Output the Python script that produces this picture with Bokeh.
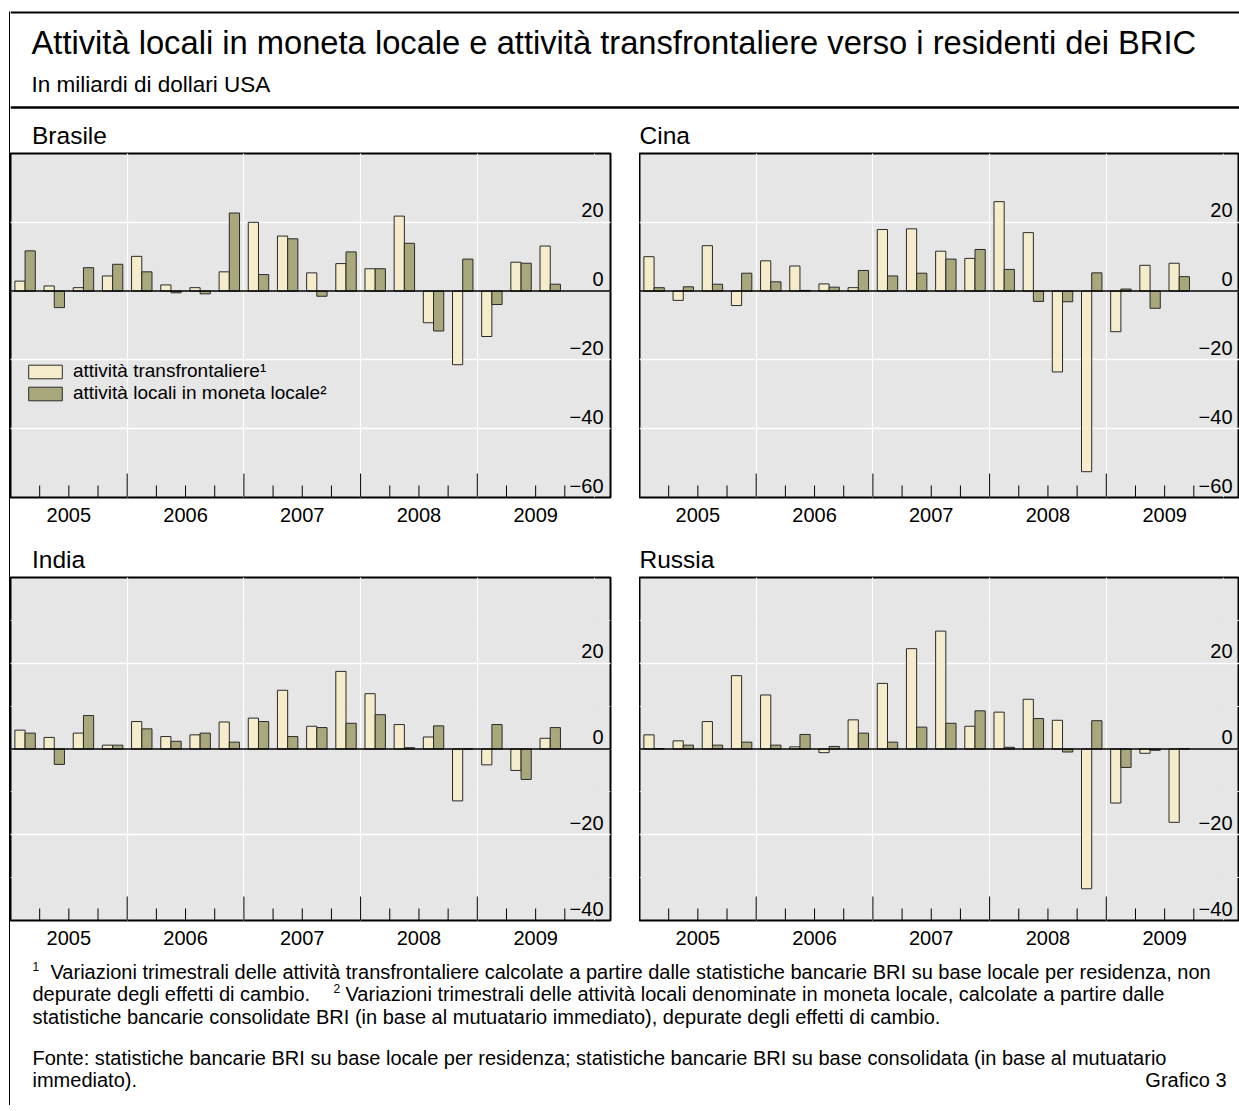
from bokeh.plotting import figure
from bokeh.layouts import row, column
from bokeh.models import (Range1d, FixedTicker, LinearAxis, Grid, Span, Legend,
                          LegendItem, ColumnDataSource)
from bokeh.core.properties import value
from bokeh.transform import dodge
from bokeh.embed import file_html
from bokeh.resources import INLINE

# ---------------- data ----------------
quarters = ["2005Q1", "2005Q2", "2005Q3", "2005Q4",
            "2006Q1", "2006Q2", "2006Q3", "2006Q4",
            "2007Q1", "2007Q2", "2007Q3", "2007Q4",
            "2008Q1", "2008Q2", "2008Q3", "2008Q4",
            "2009Q1", "2009Q2", "2009Q3"]
years = ["2005", "2006", "2007", "2008", "2009"]

brasile_cross = [2.9, 1.5, 1.0, 4.4, 10.1, 1.8, 1.0, 5.6, 20.0, 16.0, 5.3, 8.0,
                 6.5, 21.8, -9.2, -21.4, -13.2, 8.4, 13.1]
brasile_local = [11.7, -4.8, 6.8, 7.8, 5.6, -0.5, -0.8, 22.7, 4.8, 15.2, -1.5, 11.4,
                 6.5, 13.9, -11.6, 9.3, -3.9, 8.1, 2.0]

cina_cross = [10.0, -2.7, 13.2, -4.2, 8.8, 7.3, 2.1, 1.0, 17.9, 18.1, 11.6, 9.5,
              26.0, 17.0, -23.5, -52.5, -11.8, 7.5, 8.1]
cina_local = [1.0, 1.25, 2.0, 5.2, 2.7, 0.2, 1.15, 6.0, 4.4, 5.2, 9.3, 12.1,
              6.3, -3.0, -3.1, 5.3, 0.6, -5.0, 4.2]

india_cross = [4.4, 2.7, 3.7, 0.9, 6.4, 2.9, 3.3, 6.3, 7.2, 13.7, 5.3, 18.1,
               12.9, 5.7, 2.8, -12.1, -3.7, -5.0, 2.5]
india_local = [3.7, -3.6, 7.8, 0.9, 4.7, 1.8, 3.7, 1.6, 6.4, 2.9, 5.0, 6.0,
               8.0, 0.3, 5.4, 0.0, 5.7, -7.1, 5.0]

russia_cross = [3.3, 1.9, 6.4, 17.1, 12.6, 0.5, -0.85, 6.8, 15.3, 23.4, 27.5, 5.3,
                8.6, 11.6, 6.7, -32.6, -12.6, -1.0, -17.1]
russia_local = [0.1, 0.9, 0.9, 1.6, 0.9, 3.4, 0.6, 3.7, 1.6, 5.1, 6.0, 8.9,
                0.4, 7.1, -0.7, 6.6, -4.3, -0.3, 0.1]

ticks_60 = [-60, -40, -20, 0, 20]
ticks_40 = [-40, -20, 0, 20]

series_names = ["attività transfrontaliere¹", "attività locali in moneta locale²"]

# ---------------- style ----------------
FONT = "Liberation Sans"
BEIGE = "#F4ECCB"
GREEN = "#A8A87C"
BG = "#E6E6E6"
EDGE = "#2a2a2a"
PX_PER_YEAR = 116.7
BW = 0.0875            # bar width in years
LEFT_W = 10
TOTAL_W = 1229         # width right of the left border strip
HEAD_H = 113
FOOT_H = 145
PANEL_TOP = 40
PANEL_BOTTOM = 40


def qpos(q):
    return int(q[:4]) + (int(q[-1]) - 0.5) / 4.0


xpos = [qpos(q) for q in quarters]
year_nums = [int(y) for y in years]
year_bounds = year_nums[1:]
quarter_bounds = [y + k / 4.0 for y in year_nums for k in (1, 2, 3)]


def fmt(t):
    return ("\u2212" + str(abs(t))) if t < 0 else str(t)


def make_panel(name, title_offset, cross, local, yticks, frame_w, border_right,
               frame_h, legend=False):
    x_end = 2005 + frame_w / PX_PER_YEAR
    ymin = yticks[0]
    p = figure(width=frame_w + border_right, height=frame_h + PANEL_TOP + PANEL_BOTTOM,
               title=name,
               x_range=Range1d(2005, x_end),
               y_range=Range1d(ymin, 40),
               output_backend="svg", toolbar_location=None,
               x_axis_location=None, y_axis_location=None,
               min_border_left=0, min_border_right=border_right,
               min_border_top=PANEL_TOP, min_border_bottom=PANEL_BOTTOM,
               background_fill_color=BG, border_fill_color="white",
               outline_line_color="black", outline_line_width=2)
    p.title.text_font = FONT
    p.title.text_font_size = "24.5px"
    p.title.text_font_style = "normal"
    p.title.text_color = "black"
    p.title.align = "left"
    p.title.offset = title_offset
    p.title.standoff = 10

    # grids
    p.add_layout(Grid(dimension=0, ticker=FixedTicker(ticks=year_bounds),
                      grid_line_color="white", grid_line_width=1.2))
    p.add_layout(Grid(dimension=1,
                      ticker=FixedTicker(ticks=[t for t in yticks if t != 0]),
                      grid_line_color="white", grid_line_width=1.5))

    src = ColumnDataSource(dict(x=xpos, cross=cross, local=local))
    r1 = p.vbar(x=dodge("x", -BW / 2, range=p.x_range), top="cross", bottom=0,
                width=BW, source=src, fill_color=BEIGE, line_color=EDGE, line_width=1)
    r2 = p.vbar(x=dodge("x", BW / 2, range=p.x_range), top="local", bottom=0,
                width=BW, source=src, fill_color=GREEN, line_color=EDGE, line_width=1)

    p.add_layout(Span(location=0, dimension="width", line_color="black", line_width=1.5))

    # inward ticks on the bottom edge: long at year starts, short at quarters
    p.ray(x=year_bounds, y=ymin, length=24, length_units="screen", angle=90,
          angle_units="deg", line_color="black", line_width=1)
    p.ray(x=quarter_bounds, y=ymin, length=12, length_units="screen", angle=90,
          angle_units="deg", line_color="black", line_width=1)

    # y tick labels inside the frame, right side
    lab = ColumnDataSource(dict(y=yticks[1:], text=[fmt(t) for t in yticks[1:]]))
    p.text(x=x_end, y="y", text="text", source=lab, text_align="right",
           text_baseline="middle", x_offset=-7, y_offset=-12,
           text_font=value(FONT), text_font_size="20px", text_color="black")
    p.text(x=[x_end], y=[ymin], text=[fmt(ymin)], text_align="right",
           text_baseline="middle", x_offset=-7, y_offset=-12,
           text_font=value(FONT), text_font_size="20px", text_color="black")

    # year labels centred on each year
    centers = [y + 0.5 for y in year_nums]
    ax_lab = LinearAxis(ticker=FixedTicker(ticks=centers, minor_ticks=[]),
                        major_label_overrides={c: y for c, y in zip(centers, years)},
                        major_tick_line_color=None, minor_tick_line_color=None,
                        major_tick_in=0, major_tick_out=0,
                        minor_tick_in=0, minor_tick_out=0,
                        axis_line_color=None, major_label_standoff=10,
                        major_label_text_font=FONT, major_label_text_font_size="20px",
                        major_label_text_color="black")
    p.add_layout(ax_lab, "below")

    if legend:
        lg = Legend(items=[LegendItem(label=series_names[0], renderers=[r1]),
                           LegendItem(label=series_names[1], renderers=[r2])],
                    location=(14, 93), orientation="vertical",
                    background_fill_alpha=0, border_line_color=None,
                    label_text_font=FONT, label_text_font_size="19px",
                    label_text_color="black",
                    glyph_width=42, glyph_height=17, label_standoff=7,
                    spacing=0, padding=0, margin=0, label_height=21)
        p.add_layout(lg)
    return p


def text_fig(width, height):
    f = figure(width=width, height=height, x_range=Range1d(0, width),
               y_range=Range1d(height, 0), output_backend="svg", toolbar_location=None,
               x_axis_location=None, y_axis_location=None, min_border=0,
               outline_line_color=None, background_fill_color="white",
               border_fill_color="white")
    f.xgrid.visible = False
    f.ygrid.visible = False
    return f


def put(f, x, y, s, size, align="left"):
    f.text(x=[x], y=[y], text=[s], text_font=value(FONT), text_font_size=size,
           text_color="black", text_baseline="middle", text_align=align)


# header
header = text_fig(TOTAL_W, HEAD_H)
header.add_layout(Span(location=12, dimension="width", line_color="black", line_width=2))
header.add_layout(Span(location=107, dimension="width", line_color="black", line_width=2.5))
put(header, 21, 42, "Attività locali in moneta locale e attività transfrontaliere verso i residenti dei BRIC", "32.7px")
put(header, 21, 84, "In miliardi di dollari USA", "22.5px")

brasile = make_panel("Brasile", 21.5, brasile_cross, brasile_local, ticks_60, 600, 29, 344, legend=True)
cina = make_panel("Cina", 0, cina_cross, cina_local, ticks_60, 600, 0, 344)
india = make_panel("India", 21.5, india_cross, india_local, ticks_40, 600, 29, 343)
russia = make_panel("Russia", 0, russia_cross, russia_local, ticks_40, 600, 0, 343)

footer = text_fig(TOTAL_W, FOOT_H)
FS = "20px"
SUP = "12px"
put(footer, 22, 6, "1", SUP)
put(footer, 40, 11, "Variazioni trimestrali delle attività transfrontaliere calcolate a partire dalle statistiche bancarie BRI su base locale per residenza, non", FS)
put(footer, 22, 33, "depurate degli effetti di cambio.", FS)
put(footer, 323, 28, "2", SUP)
put(footer, 335, 33, "Variazioni trimestrali delle attività locali denominate in moneta locale, calcolate a partire dalle", FS)
put(footer, 22, 56, "statistiche bancarie consolidate BRI (in base al mutuatario immediato), depurate degli effetti di cambio.", FS)
put(footer, 22, 97, "Fonte: statistiche bancarie BRI su base locale per residenza; statistiche bancarie BRI su base consolidata (in base al mutuatario", FS)
put(footer, 22, 119, "immediato).", FS)
put(footer, 1216, 119, "Grafico 3", FS, align="right")

body = column(header, row(brasile, cina), row(india, russia), footer)
total_h = HEAD_H + 2 * (PANEL_TOP + PANEL_BOTTOM) + 344 + 343 + FOOT_H

# left border strip of the outer frame
leftbar = text_fig(LEFT_W, total_h)
leftbar.segment(x0=[9.25], y0=[11], x1=[9.25], y1=[total_h], line_color="black", line_width=1.5)

layout = row(leftbar, body)

open("out.html", "w").write(file_html(layout, INLINE, title="BRIC"))
